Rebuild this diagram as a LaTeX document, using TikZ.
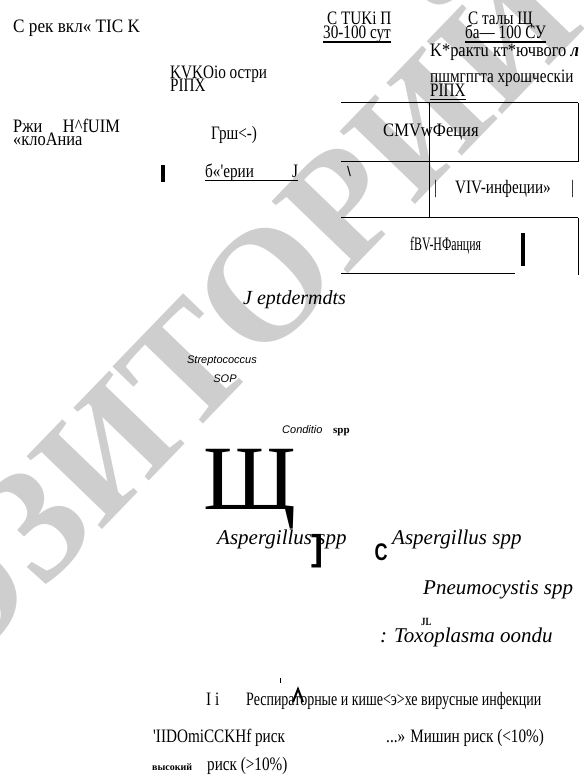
\documentclass[tikz,border=0pt]{standalone}
\usepackage{fontspec}
\setmainfont{Liberation Serif}
\setsansfont{Liberation Sans}
\newfontfamily\ocrfont[FakeStretch=0.8]{Liberation Serif}
\usetikzlibrary{positioning}
\definecolor{wmgray}{RGB}{206,206,206}
\tikzstyle{ocr}=[inner sep=0pt,anchor=base west,font=\ocrfont\fontsize{19}{19}\selectfont]
\tikzstyle{latin}=[inner sep=0pt,anchor=base west,font=\itshape\fontsize{21}{21}\selectfont]
\tikzstyle{bact}=[inner sep=0pt,anchor=base west,font=\sffamily\itshape\fontsize{11}{11}\selectfont]
\tikzstyle{cell}=[line width=1pt]
\tikzstyle{bar}=[line width=4pt]

\begin{document}
\begin{tikzpicture}[x=1pt,y=-1pt]
\useasboundingbox (0,0) rectangle (583,775);
% watermark
\node[rotate=46,text=wmgray,inner sep=0pt,font=\bfseries\fontsize{160}{160}\selectfont] (wm) at (108,426) {РЕПОЗИТОРИЙ};

% header
\node[ocr,xscale=1.13,transform shape] (srok) at (13,33) {С рек вкл« TIC K};
\node[ocr] (stad1) at (327,25) {С TUKi П};
\node[ocr] (dni1) at (323,39) {30-100 сут};
\draw[line width=1.5pt] ([yshift=-3pt]dni1.base west) -- ([yshift=-3pt]dni1.base east);
\node[ocr] (stad2) at (468,25) {С талы Щ};
\node[ocr] (dni2) at (465,39) {ба— 100 СУ};
\draw[line width=2.5pt] ([yshift=-3pt]dni2.base west) -- ([yshift=-3pt]dni2.base east);
\node[ocr,xscale=1.08,transform shape] (kr) at (430,57) {K*рактu кт*ючвого \textbf{\textit{л}}};
\node[ocr] (hr) at (430,83) {пшмгпгта хрошческiи};
\node[ocr] (pix2) at (430,97) {PIПX};
\draw[cell] ([yshift=-3pt]pix2.base west) -- ([yshift=-3pt]pix2.base east);

% left column
\node[ocr] (ko) at (170,79) {KVKOio остри};
\node[ocr] (pix1) at (170,92) {PIПX};
\node[ocr,xscale=1.08,transform shape] (rz) at (13,133) {Ржи\quad H\textasciicircum fUIM};
\node[ocr,xscale=1.08,transform shape] (kl) at (13,146) {«клоАниа};
\node[ocr] (gr) at (211,140) {Грш<-)};
\draw[line width=3.5pt] (163,165) -- (163,182);
\node[ocr] (bk) at (205,178) {б«'ерии};
\node[ocr] (jj) at (292,178) {J};
\draw[cell] ([yshift=-3pt]bk.base west) -- ([yshift=-3pt]jj.base east);

% table
\draw[cell] (341,103) -- (578,103);
\draw[cell] (341,162) -- (578,162);
\draw[cell] (341,218) -- (578,218);
\draw[cell] (341,273) -- (515,273);
\draw[cell] (429,103) -- (429,218);
\draw[cell] (578,103) -- (578,162);
\draw[cell] (578,218) -- (578,275);
\node[ocr,xscale=1.09,transform shape] (cmv) at (383,137) {CMVwФеция};
\node[inner sep=0pt,anchor=base west,font=\sffamily\fontsize{14}{14}\selectfont] (bsl) at (347,177) {\textbackslash};
\node[ocr] (vl1) at (434,194) {|};
\node[ocr] (viv) at (455,194) {VIV-инфеции»};
\node[ocr] (vl2) at (571,194) {|};
\node[ocr,xscale=0.78,transform shape] (ebv) at (410,251) {fBV-HФанция};
\draw[bar] (523,233) -- (523,266);

% pathogens
\node[latin,font=\itshape\fontsize{20}{20}\selectfont] (lept) at (243,304) {J eptdermdts};
\node[bact,anchor=base] (strep) at (222,363) {Streptococcus};
\node[bact,anchor=base] (sop) at (225,382) {SOP};
\node[bact] (cond) at (282,433) {Conditio};
\node[inner sep=0pt,anchor=base west,font=\bfseries\fontsize{11}{11}\selectfont] (spp) at (333,433) {spp};
\node[inner sep=0pt,anchor=base west,font=\fontsize{92}{92}\selectfont] (sha) at (203,509) {Щ};
\node[latin] (asp1) at (217,544) {Aspergillus spp};
\node[inner sep=0pt,font=\sffamily\bfseries\fontsize{36}{36}\selectfont] (brk) at (317,551) {]};
\node[inner sep=0pt,xscale=0.75,font=\sffamily\bfseries\fontsize{24}{24}\selectfont] (cc) at (381,552) {C};
\node[latin] (asp2) at (392,544) {Aspergillus spp};
\node[latin] (pneu) at (423,594) {Pneumocystis spp};
\node[inner sep=0pt,anchor=base west,font=\ocrfont\bfseries\fontsize{11}{11}\selectfont] (jl) at (421,625) {JL};
\node[latin] (toxo) at (380,642) {: Toxoplasma oondu};
\draw[cell] (280,678) -- (280,683);

% legend
\node[ocr] (ii) at (206,705) {I i};
\node[ocr,xscale=0.92,transform shape] (resp) at (246,705) {Респираторные и кише<э>хе вирусные инфекции};
\draw[line width=2pt] (293,702) -- (298,689) -- (303,702);
\node[ocr] (risk1) at (153,742) {'IIDOmiCCKHf риск};
\node[ocr] (risk2) at (386,742) {...» Мишин риск (<10\%)};
\node[inner sep=0pt,anchor=base west,font=\bfseries\fontsize{10}{10}\selectfont] (vys) at (152,770) {высокий};
\node[ocr] (risk3) at (207,770) {риск (>10\%)};
\end{tikzpicture}
\end{document}
